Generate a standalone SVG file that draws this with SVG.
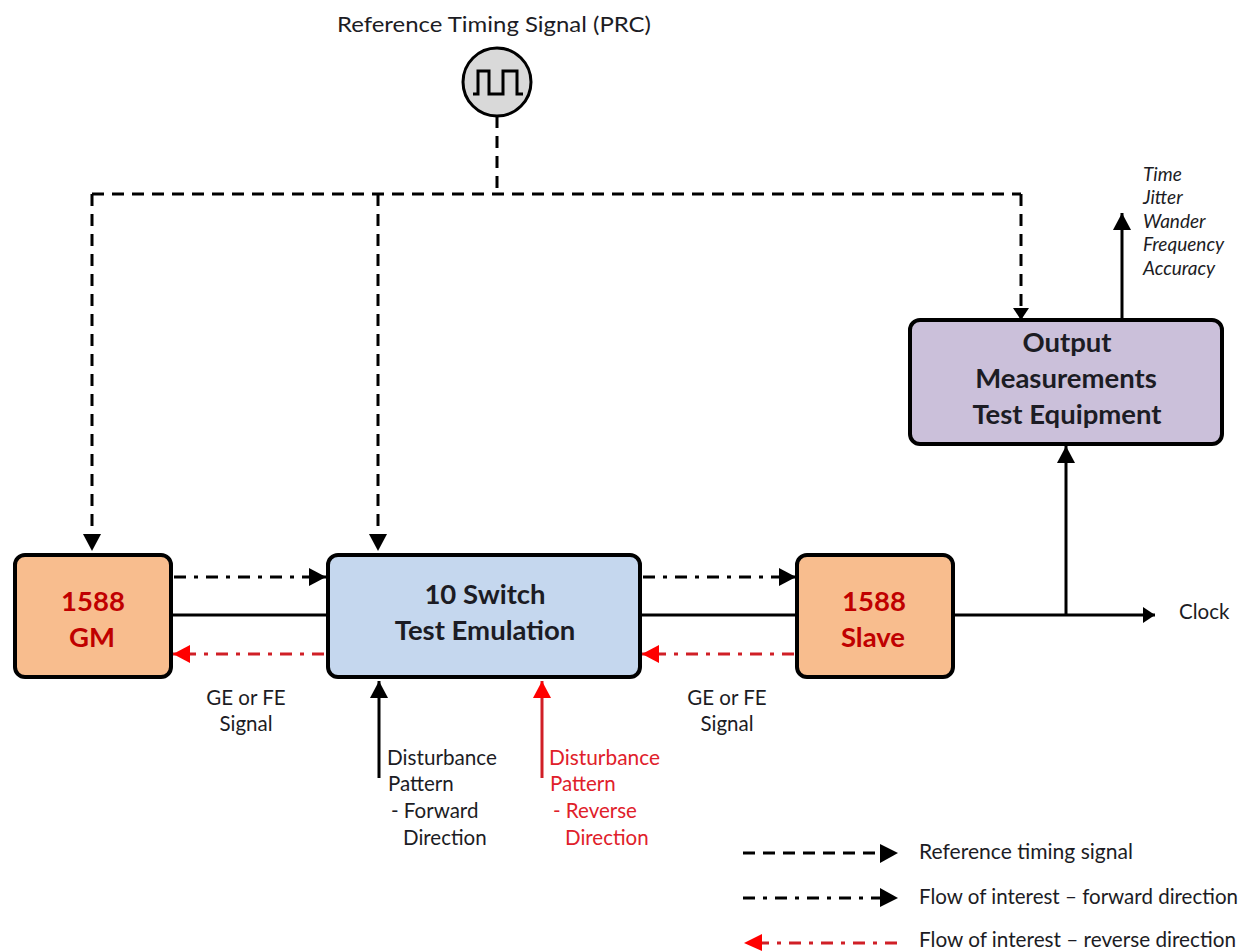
<svg xmlns="http://www.w3.org/2000/svg" width="1241" height="951" viewBox="0 0 1241 951">
<style>
text{font-family:Lato,"Open Sans","Liberation Sans",sans-serif;fill:#1c1c24}
.lbl{font-size:20.5px}
.t{font-size:27.5px;font-weight:700;text-anchor:middle}
.r{fill:#c00000}
.red{fill:#e0202a}
.it{font-size:19px;font-style:italic}
.box{stroke:#000;stroke-width:4}
.ln{fill:none;stroke:#000;stroke-width:3}
.dash{stroke-dasharray:12 8}
.dd{stroke-dasharray:12 8 4 8}
.rl{stroke:#d01f26}
.mid{text-anchor:middle}
</style>
<defs>
<marker id="ah" markerUnits="userSpaceOnUse" markerWidth="18" markerHeight="18" refX="17" refY="9" orient="auto"><path d="M0 0L17 9L0 18Z" fill="#000"/></marker>
<marker id="ahr" markerUnits="userSpaceOnUse" markerWidth="18" markerHeight="18" refX="17" refY="9" orient="auto"><path d="M0 0L17 9L0 18Z" fill="#f00"/></marker>
<marker id="as" markerUnits="userSpaceOnUse" markerWidth="13" markerHeight="16" refX="12" refY="8" orient="auto"><path d="M0 0L12 8L0 16Z" fill="#000"/></marker>
</defs>
<g id="connectors">
<path class="ln dash" d="M497 116V194"/>
<path class="ln dash" d="M92 194H1021"/>
<path class="ln dash" d="M92 194V551" marker-end="url(#ah)"/>
<path class="ln dash" d="M378 194V551" marker-end="url(#ah)"/>
<path class="ln dash" d="M1021 194V320" marker-end="url(#as)"/>
<path class="ln" d="M1122 318V213" marker-end="url(#ah)"/>
<path class="ln dd" d="M174 577H326" marker-end="url(#ah)"/>
<path class="ln dd" d="M643 577H796" marker-end="url(#ah)"/>
<path class="ln" d="M173 615H326"/>
<path class="ln" d="M642 615H796"/>
<path class="ln" d="M954 615H1155" marker-end="url(#as)"/>
<path class="ln" d="M1066 615V446" marker-end="url(#ah)"/>
<path class="ln dd rl" d="M324 654H173" marker-end="url(#ahr)"/>
<path class="ln dd rl" d="M794 654H642" marker-end="url(#ahr)"/>
<path class="ln" d="M379 778V681" marker-end="url(#ah)"/>
<path class="ln rl" d="M542 778V681" marker-end="url(#ahr)"/>
</g>
<g id="prc">
<text class="lbl" x="337" y="32" style="font-size:22px" textLength="314" lengthAdjust="spacingAndGlyphs">Reference Timing Signal (PRC)</text>
<circle cx="497" cy="82" r="34" fill="#d9d9d9" stroke="#000" stroke-width="3"/>
<path d="M473 94H478V71H489V94H503V71H517V94H523" fill="none" stroke="#000" stroke-width="3"/>
</g>
<g id="gm">
<rect class="box" x="15" y="555" width="156" height="122" rx="10" fill="#f8bd8e"/>
<text class="t r" x="93" y="611">1588</text>
<text class="t r" x="92" y="647">GM</text>
</g>
<g id="switch">
<rect class="box" x="328" y="555" width="312" height="122" rx="10" fill="#c5d7ee"/>
<text class="t" x="485" y="604">10 Switch</text>
<text class="t" x="485" y="640">Test Emulation</text>
</g>
<g id="slave">
<rect class="box" x="797" y="555" width="156" height="122" rx="10" fill="#f8bd8e"/>
<text class="t r" x="874" y="611">1588</text>
<text class="t r" x="873" y="647">Slave</text>
</g>
<g id="output">
<rect class="box" x="910" y="320" width="312" height="124" rx="10" fill="#cbc0da"/>
<text class="t" x="1067" y="352">Output</text>
<text class="t" x="1066" y="388">Measurements</text>
<text class="t" x="1067" y="424">Test Equipment</text>
</g>
<g id="labels">
<text class="it" x="1143" y="181">Time</text>
<text class="it" x="1143" y="204">Jitter</text>
<text class="it" x="1143" y="228">Wander</text>
<text class="it" x="1143" y="251">Frequency</text>
<text class="it" x="1143" y="275">Accuracy</text>
<text class="lbl mid" x="246" y="705">GE or FE</text>
<text class="lbl mid" x="246" y="731">Signal</text>
<text class="lbl mid" x="727" y="705">GE or FE</text>
<text class="lbl mid" x="727" y="731">Signal</text>
<text class="lbl" x="1179" y="619">Clock</text>
<text class="lbl" x="387" y="765" textLength="110" lengthAdjust="spacingAndGlyphs">Disturbance</text>
<text class="lbl" x="388" y="791">Pattern</text>
<text class="lbl" x="391" y="818">- Forward</text>
<text class="lbl" x="403" y="845">Direction</text>
<text class="lbl red" x="549" y="765" textLength="111" lengthAdjust="spacingAndGlyphs">Disturbance</text>
<text class="lbl red" x="550" y="791">Pattern</text>
<text class="lbl red" x="553" y="818">- Reverse</text>
<text class="lbl red" x="565" y="845">Direction</text>
</g>
<g id="legend">
<path class="ln dash" d="M743 853H880"/>
<path d="M880 844L898 853L880 863Z" fill="#000"/>
<text class="lbl" x="919" y="859" textLength="214" lengthAdjust="spacingAndGlyphs">Reference timing signal</text>
<path class="ln dd" d="M743 898H880"/>
<path d="M880 888L898 898L880 907Z" fill="#000"/>
<text class="lbl" x="919" y="904" textLength="319" lengthAdjust="spacingAndGlyphs">Flow of interest – forward direction</text>
<path class="ln dd rl" d="M897 943H762"/>
<path d="M744 943L762 934V951Z" fill="#f00"/>
<text class="lbl" x="919" y="947" textLength="317" lengthAdjust="spacingAndGlyphs">Flow of interest – reverse direction</text>
</g>
</svg>
